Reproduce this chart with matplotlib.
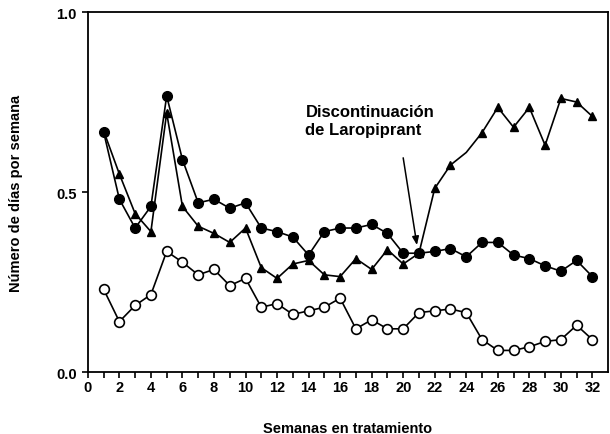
import matplotlib.pyplot as plt

plt.rcParams['font.family'] = ['Liberation Sans', 'DejaVu Sans']

semanas = list(range(1, 33))
circulos = [0.667, 0.48, 0.40, 0.46, 0.767, 0.59, 0.47, 0.48, 0.455, 0.47,
            0.40, 0.39, 0.375, 0.325, 0.39, 0.40, 0.40, 0.41, 0.385, 0.33,
            0.33, 0.335, 0.343, 0.32, 0.36, 0.36, 0.325, 0.315, 0.295, 0.28,
            0.31, 0.265]
triangulos = [0.67, 0.55, 0.44, 0.39, 0.72, 0.46, 0.405, 0.385, 0.36, 0.40,
              0.29, 0.26, 0.30, 0.31, 0.27, 0.265, 0.315, 0.285, 0.34, 0.30,
              0.33, 0.51, 0.575, 0.61, 0.665, 0.735, 0.68, 0.735, 0.63, 0.76,
              0.75, 0.71]
abiertos = [0.23, 0.14, 0.185, 0.215, 0.335, 0.305, 0.27, 0.285, 0.24, 0.26,
            0.18, 0.19, 0.16, 0.17, 0.18, 0.205, 0.12, 0.145, 0.12, 0.12,
            0.165, 0.17, 0.175, 0.165, 0.09, 0.06, 0.06, 0.07, 0.085, 0.09,
            0.13, 0.09]

fig = plt.figure(figsize=(6.1, 4.35), dpi=100)
ax = fig.add_axes([0.144, 0.1425, 0.853, 0.8275])

# triangulos: sin marcador en la semana 24
marcas_tri = [i for i in range(len(semanas)) if semanas[i] != 24]
ax.plot(semanas, triangulos, color='black', lw=1.2, marker='^', ms=6,
        markevery=marcas_tri, zorder=2)
ax.plot(semanas, circulos, color='black', lw=1.2, marker='o', ms=7, zorder=3)
ax.plot(semanas, abiertos, color='black', lw=1.2, marker='o', ms=7,
        mfc='white', mec='black', mew=1.2, zorder=3)

ax.text(13.8, 0.70, 'Discontinuación\nde Laropiprant', fontsize=12,
        fontweight='bold', ha='left', va='center', linespacing=1.25)
ax.annotate('', xy=(20.9, 0.345), xytext=(20.0, 0.595),
            arrowprops=dict(arrowstyle='-|>,head_length=0.5,head_width=0.2',
                            color='black', lw=1.1, shrinkA=0, shrinkB=2))

ax.set_xlim(0, 33)
ax.set_ylim(0, 1.0)
ax.set_xticks(range(0, 33, 2))
ax.set_xticks(range(0, 33), minor=True)
ax.set_yticks([0.0, 0.5, 1.0])
ax.set_yticklabels(['0.0', '0.5', '1.0'])
ax.tick_params(axis='both', which='major', direction='out', length=4, width=1.2,
               labelsize=10.5, pad=2)
ax.tick_params(axis='y', which='major', pad=4)
ax.tick_params(axis='x', which='minor', direction='out', length=4, width=1.2)
for lab in ax.get_xticklabels() + ax.get_yticklabels():
    lab.set_fontweight('bold')
for s in ax.spines.values():
    s.set_linewidth(1.3)

ax.set_xlabel('Semanas en tratamiento', fontsize=10.5, fontweight='bold', labelpad=19)
ax.set_ylabel('Número de días por semana', fontsize=10.5, fontweight='bold', labelpad=24)

fig.savefig('out.png', dpi=100)
